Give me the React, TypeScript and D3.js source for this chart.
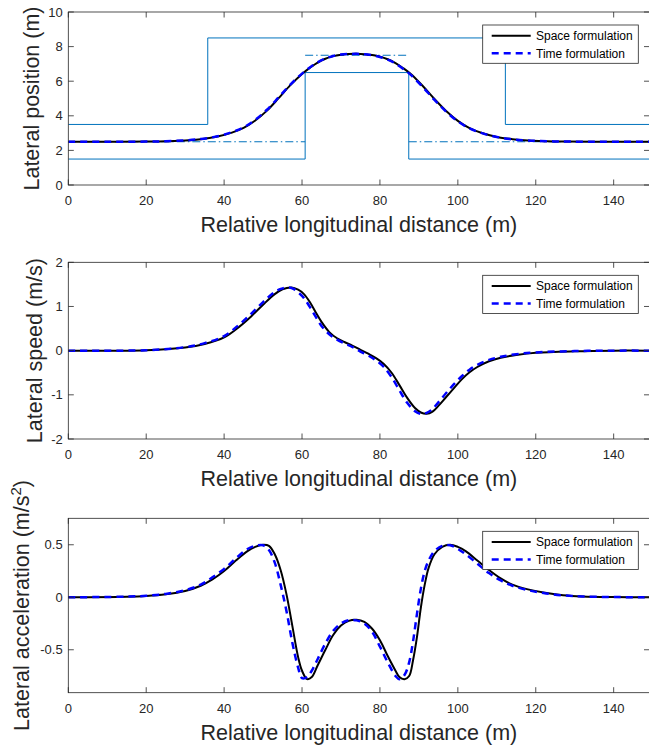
import * as d3 from "d3";

const W = 649;
const H = 750;
const FONT = "'Liberation Sans', Arial, Helvetica, sans-serif";
const INK = "#262626";

// ---- data ----
const xMax = 149.2;
const xTicks = [0, 20, 40, 60, 80, 100, 120, 140];

// lateral position (m)
const posX = [0, 10, 20, 25, 30, 34, 38, 42, 45, 48, 51, 54, 57, 60, 62, 64, 66, 68, 70, 72, 74, 76, 78, 80, 82, 84, 86, 88, 91, 94, 97, 100, 103, 106, 110, 114, 118, 123, 128, 135, 149.2];
const posSpace = [2.5, 2.5, 2.51, 2.53, 2.57, 2.65, 2.79, 3.03, 3.3, 3.73, 4.3, 5.02, 5.77, 6.42, 6.77, 7.08, 7.3, 7.45, 7.53, 7.57, 7.58, 7.56, 7.51, 7.42, 7.27, 7.05, 6.75, 6.4, 5.72, 4.97, 4.28, 3.71, 3.29, 3.02, 2.78, 2.65, 2.57, 2.53, 2.51, 2.5, 2.5];
const posTime = [2.5, 2.5, 2.51, 2.53, 2.58, 2.66, 2.8, 3.05, 3.33, 3.77, 4.35, 5.07, 5.8, 6.44, 6.79, 7.09, 7.31, 7.46, 7.54, 7.57, 7.58, 7.56, 7.5, 7.4, 7.25, 7.02, 6.71, 6.35, 5.66, 4.92, 4.24, 3.68, 3.27, 3.01, 2.78, 2.64, 2.57, 2.53, 2.51, 2.5, 2.5];
const posTicks = [0, 2, 4, 6, 8, 10];

// lane boundaries and reference centre line
const upperX = [0, 35.8, 35.8, 112.2, 112.2, 149.2];
const upperY = [3.5, 3.5, 8.5, 8.5, 3.5, 3.5];
const lowerX = [0, 60.8, 60.8, 87.4, 87.4, 149.2];
const lowerY = [1.5, 1.5, 6.5, 6.5, 1.5, 1.5];
const centerStart = [0, 60.8, 87.4];
const centerEnd = [60.8, 87.4, 149.2];
const centerY = [2.5, 7.5, 2.5];

// lateral speed (m/s)
const speedX = [0, 20, 30, 35, 40, 44, 47, 50, 53, 55, 57.3, 59, 60.5, 62, 63.5, 65, 67, 69, 71, 73, 75, 77, 79, 81, 83, 85, 87, 89, 90.5, 92, 93.5, 95, 97, 99, 101, 103, 105, 108, 111, 115, 120, 130, 140, 149.2];
const speedSpace = [0, 0.01, 0.07, 0.15, 0.3, 0.55, 0.78, 1.04, 1.28, 1.39, 1.43, 1.38, 1.28, 1.1, 0.87, 0.65, 0.42, 0.28, 0.19, 0.11, 0.02, -0.07, -0.17, -0.3, -0.5, -0.78, -1.07, -1.3, -1.4, -1.43, -1.38, -1.25, -1.05, -0.85, -0.65, -0.49, -0.37, -0.24, -0.16, -0.1, -0.05, -0.015, 0, 0];
const speedTime = [0, 0.01, 0.08, 0.17, 0.33, 0.6, 0.84, 1.1, 1.33, 1.41, 1.42, 1.32, 1.19, 0.99, 0.77, 0.56, 0.37, 0.25, 0.16, 0.08, -0.02, -0.11, -0.22, -0.37, -0.6, -0.9, -1.18, -1.37, -1.43, -1.41, -1.32, -1.17, -0.96, -0.76, -0.58, -0.43, -0.32, -0.21, -0.14, -0.08, -0.04, -0.01, 0, 0];
const speedTicks = [-2, -1, 0, 1, 2];

// lateral acceleration (m/s^2)
const accX = [0, 15, 20, 25, 30, 34, 37, 40, 43, 46, 48, 50, 51.5, 53, 54.5, 56, 57.5, 59, 60, 61.3, 62.5, 64, 66, 68, 70, 72, 74, 76, 78, 80, 82, 84, 85, 86.3, 87.5, 88.5, 89.5, 90.5, 91.5, 92.5, 94, 96, 98, 100, 102, 105, 108, 111, 114, 118, 122, 127, 132, 140, 149.2];
const accSpace = [0, 0.005, 0.012, 0.028, 0.06, 0.11, 0.17, 0.25, 0.35, 0.44, 0.48, 0.5, 0.49, 0.41, 0.26, 0.03, -0.27, -0.57, -0.7, -0.78, -0.76, -0.65, -0.5, -0.36, -0.27, -0.225, -0.215, -0.235, -0.3, -0.41, -0.56, -0.7, -0.76, -0.78, -0.75, -0.6, -0.38, -0.1, 0.12, 0.28, 0.41, 0.48, 0.5, 0.48, 0.44, 0.35, 0.26, 0.18, 0.12, 0.075, 0.045, 0.02, 0.008, 0.002, 0];
const accTime = [0, 0.006, 0.014, 0.032, 0.067, 0.12, 0.19, 0.27, 0.37, 0.46, 0.49, 0.495, 0.45, 0.33, 0.12, -0.13, -0.43, -0.67, -0.77, -0.76, -0.7, -0.59, -0.44, -0.32, -0.25, -0.218, -0.22, -0.25, -0.33, -0.47, -0.62, -0.75, -0.78, -0.74, -0.62, -0.42, -0.16, 0.08, 0.25, 0.35, 0.44, 0.49, 0.495, 0.46, 0.41, 0.32, 0.23, 0.16, 0.11, 0.068, 0.04, 0.018, 0.007, 0.002, 0];
const accTicks = [-0.5, 0, 0.5];

const legendLabels = ["Space formulation", "Time formulation"];
const xLabel = "Relative longitudinal distance (m)";

// ---- layout ----
const left = 68.3;
const right = 649.5;
const tickLen = 5.5;

const x = d3.scaleLinear().domain([0, xMax]).range([left, right]);

const smooth = (xs: number[], ys: number[], y: d3.ScaleLinear<number, number>) =>
  d3
    .line<number>()
    .x((_, i) => x(xs[i]))
    .y((d) => y(d))
    .curve(d3.curveCatmullRom.alpha(0.5))(ys) || "";

const straight = (xs: number[], ys: number[], y: d3.ScaleLinear<number, number>) =>
  d3
    .line<number>()
    .x((_, i) => x(xs[i]))
    .y((d) => y(d))(ys) || "";

function Legend({ top }: { top: number }) {
  const lx = 482.7;
  const ly = top + 13;
  return (
    <g>
      <rect x={lx} y={ly} width={155.6} height={38.3} fill="#fff" stroke={INK} strokeWidth={0.8} />
      {legendLabels.map((label, i) => {
        const cy = ly + 10.7 + i * 17.6;
        return (
          <g key={label}>
            <line
              x1={lx + 9}
              x2={lx + 48}
              y1={cy}
              y2={cy}
              stroke={i === 0 ? "#000" : "#0000ff"}
              strokeWidth={i === 0 ? 2 : 2.5}
              strokeDasharray={i === 0 ? undefined : "7,5"}
            />
            <text x={lx + 53.3} y={cy} dy="0.35em" fontSize={12} fill="#000" fontFamily={FONT}>
              {label}
            </text>
          </g>
        );
      })}
    </g>
  );
}

type PanelProps = {
  id: string;
  top: number;
  bottom: number;
  yDomain: [number, number];
  yTicks: number[];
  yLabel: React.ReactNode;
  yLabelX: number;
  xs: number[];
  space: number[];
  time: number[];
  extra?: (y: d3.ScaleLinear<number, number>) => React.ReactNode;
};

function Panel({ id, top, bottom, yDomain, yTicks, yLabel, yLabelX, xs, space, time, extra }: PanelProps) {
  const y = d3.scaleLinear().domain(yDomain).range([bottom, top]);
  const midY = (top + bottom) / 2;
  const midX = (left + right) / 2;
  return (
    <g>
      <defs>
        <clipPath id={id}>
          <rect x={left} y={top} width={right - left} height={bottom - top} />
        </clipPath>
      </defs>
      <g clipPath={`url(#${id})`}>
        {extra && extra(y)}
        <path d={smooth(xs, space, y)} fill="none" stroke="#000" strokeWidth={2} />
        <path d={smooth(xs, time, y)} fill="none" stroke="#0000ff" strokeWidth={2.5} strokeDasharray="7,5" />
      </g>

      {/* axes box */}
      <rect x={left} y={top} width={right - left} height={bottom - top} fill="none" stroke={INK} strokeWidth={0.8} />
      {xTicks.map((t) => (
        <g key={"x" + t}>
          <line x1={x(t)} x2={x(t)} y1={bottom} y2={bottom - tickLen} stroke={INK} strokeWidth={0.8} />
          <line x1={x(t)} x2={x(t)} y1={top} y2={top + tickLen} stroke={INK} strokeWidth={0.8} />
          <text x={x(t)} y={bottom + 20} textAnchor="middle" fontSize={13} fill={INK} fontFamily={FONT}>
            {t}
          </text>
        </g>
      ))}
      {yTicks.map((t) => (
        <g key={"y" + t}>
          <line x1={left} x2={left + tickLen} y1={y(t)} y2={y(t)} stroke={INK} strokeWidth={0.8} />
          <line x1={right} x2={right - tickLen} y1={y(t)} y2={y(t)} stroke={INK} strokeWidth={0.8} />
          <text x={left - 5.6} y={y(t)} dy="0.35em" textAnchor="end" fontSize={13} fill={INK} fontFamily={FONT}>
            {String(t)}
          </text>
        </g>
      ))}
      <text x={midX} y={bottom + 47} textAnchor="middle" fontSize={21.5} fill={INK} fontFamily={FONT}>
        {xLabel}
      </text>
      <text
        transform={`translate(${yLabelX},${midY}) rotate(-90)`}
        textAnchor="middle"
        fontSize={21.5}
        fill={INK}
        fontFamily={FONT}
      >
        {yLabel}
      </text>
      <Legend top={top} />
    </g>
  );
}

export default function App() {
  const lanes = (y: d3.ScaleLinear<number, number>) => (
    <g>
      <path d={straight(upperX, upperY, y)} fill="none" stroke="#0072bd" strokeWidth={1} />
      <path d={straight(lowerX, lowerY, y)} fill="none" stroke="#0072bd" strokeWidth={1} />
      {centerY.map((cy, i) => (
        <line
          key={i}
          x1={x(centerStart[i])}
          x2={x(centerEnd[i])}
          y1={y(cy)}
          y2={y(cy)}
          stroke="#0072bd"
          strokeWidth={1}
          strokeDasharray="8,3,1.5,3"
        />
      ))}
    </g>
  );

  return (
    <svg width={W} height={H} style={{ position: "absolute", left: 0, top: 0, background: "#fff" }}>
      <rect width={W} height={H} fill="#fff" />
      <Panel
        id="c1"
        top={12}
        bottom={185}
        yDomain={[0, 10]}
        yTicks={posTicks}
        yLabel="Lateral position (m)"
        yLabelX={38.7}
        xs={posX}
        space={posSpace}
        time={posTime}
        extra={lanes}
      />
      <Panel
        id="c2"
        top={262.3}
        bottom={439}
        yDomain={[-2, 2]}
        yTicks={speedTicks}
        yLabel="Lateral speed (m/s)"
        yLabelX={41.8}
        xs={speedX}
        space={speedSpace}
        time={speedTime}
      />
      <Panel
        id="c3"
        top={518.3}
        bottom={692.7}
        yDomain={[-0.909, 0.752]}
        yTicks={accTicks}
        yLabel={
          <>
            Lateral acceleration (m/s
            <tspan fontSize={15} dy={-8}>
              2
            </tspan>
            <tspan dy={8}>)</tspan>
          </>
        }
        yLabelX={29}
        xs={accX}
        space={accSpace}
        time={accTime}
      />
    </svg>
  );
}
